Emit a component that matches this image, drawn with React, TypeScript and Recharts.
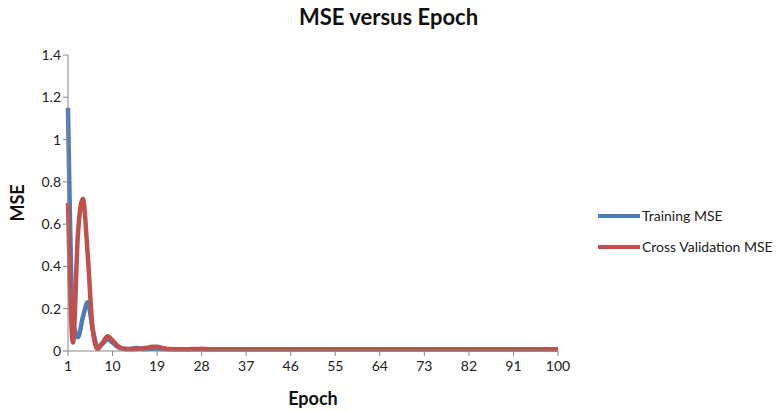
import React from 'react';
import { LineChart, Line, XAxis, YAxis } from 'recharts';

const epochs: number[] = [
  1, 2, 3, 4, 5, 6, 7, 8, 9, 10, 11, 12, 13, 14, 15, 16, 17, 18, 19, 20,
  21, 22, 23, 24, 25, 26, 27, 28, 29, 30, 31, 32, 33, 34, 35, 36, 37, 38, 39, 40,
  41, 42, 43, 44, 45, 46, 47, 48, 49, 50, 51, 52, 53, 54, 55, 56, 57, 58, 59, 60,
  61, 62, 63, 64, 65, 66, 67, 68, 69, 70, 71, 72, 73, 74, 75, 76, 77, 78, 79, 80,
  81, 82, 83, 84, 85, 86, 87, 88, 89, 90, 91, 92, 93, 94, 95, 96, 97, 98, 99, 100,
];

const trainingMSE: number[] = [
  1.15, 0.15, 0.065, 0.16, 0.23, 0.1, 0.02, 0.035, 0.055, 0.04,
  0.02, 0.012, 0.01, 0.012, 0.014, 0.01, 0.009, 0.011, 0.012, 0.01,
  0.009, 0.008, 0.008, 0.008, 0.008, 0.008, 0.008, 0.009, 0.008, 0.008,
  0.008, 0.008, 0.008, 0.008, 0.008, 0.008, 0.008, 0.008, 0.008, 0.008,
  0.008, 0.008, 0.008, 0.008, 0.008, 0.008, 0.008, 0.008, 0.008, 0.008,
  0.008, 0.008, 0.008, 0.008, 0.008, 0.008, 0.008, 0.008, 0.008, 0.008,
  0.008, 0.008, 0.008, 0.008, 0.008, 0.008, 0.008, 0.008, 0.008, 0.008,
  0.008, 0.008, 0.008, 0.008, 0.008, 0.008, 0.008, 0.008, 0.008, 0.008,
  0.008, 0.008, 0.008, 0.008, 0.008, 0.008, 0.008, 0.008, 0.008, 0.008,
  0.008, 0.008, 0.008, 0.008, 0.008, 0.008, 0.008, 0.008, 0.008, 0.008,
];

const crossValidationMSE: number[] = [
  0.7, 0.04, 0.55, 0.72, 0.45, 0.1, 0.01, 0.04, 0.07, 0.05,
  0.025, 0.012, 0.008, 0.008, 0.01, 0.012, 0.015, 0.02, 0.02, 0.015,
  0.01, 0.009, 0.008, 0.008, 0.008, 0.009, 0.01, 0.01, 0.009, 0.008,
  0.008, 0.008, 0.008, 0.008, 0.008, 0.008, 0.008, 0.008, 0.008, 0.008,
  0.008, 0.008, 0.008, 0.008, 0.008, 0.008, 0.008, 0.008, 0.008, 0.008,
  0.008, 0.008, 0.008, 0.008, 0.008, 0.008, 0.008, 0.008, 0.008, 0.008,
  0.008, 0.008, 0.008, 0.008, 0.008, 0.008, 0.008, 0.008, 0.008, 0.008,
  0.008, 0.008, 0.008, 0.008, 0.008, 0.008, 0.008, 0.008, 0.008, 0.008,
  0.008, 0.008, 0.008, 0.008, 0.008, 0.008, 0.008, 0.008, 0.008, 0.008,
  0.008, 0.008, 0.008, 0.008, 0.008, 0.008, 0.008, 0.008, 0.008, 0.008,
];

const xTicks: number[] = [1, 10, 19, 28, 37, 46, 55, 64, 73, 82, 91, 100];
const yTicks: number[] = [0, 0.2, 0.4, 0.6, 0.8, 1, 1.2, 1.4];

const seriesNames = ['Training MSE', 'Cross Validation MSE'];
const seriesColors = ['#4A7EBB', '#C0504D'];

const data = epochs.map((e, i) => ({
  epoch: e,
  training: trainingMSE[i],
  validation: crossValidationMSE[i],
}));

const FONT = 'Lato, "Open Sans", sans-serif';

export default function App() {
  return (
    <div style={{ position: 'absolute', left: 0, top: 0, width: 777, height: 410, background: '#fff' }}>
      <div
        style={{
          position: 'absolute',
          left: 0,
          top: 3,
          width: 777,
          textAlign: 'center',
          fontFamily: FONT,
          fontWeight: 'bold',
          fontSize: 22,
          color: '#111',
          lineHeight: '28px',
        }}
      >
        MSE versus Epoch
      </div>
      <div
        style={{
          position: 'absolute',
          left: 598,
          top: 200,
          fontFamily: FONT,
          fontSize: 14,
          color: '#222',
        }}
      >
        {seriesNames.map((n, i) => (
          <div key={n} style={{ display: 'flex', alignItems: 'center', height: 31 }}>
            <div style={{ width: 42, height: 4, background: seriesColors[i], marginRight: 2 }} />
            <span>{n}</span>
          </div>
        ))}
      </div>
      <LineChart
        width={777}
        height={410}
        data={data}
        margin={{ top: 55, right: 219, bottom: 29, left: 0 }}
      >
        <XAxis
          dataKey="epoch"
          type="number"
          domain={[1, 100]}
          ticks={xTicks}
          interval={0}
          stroke="#868686"
          tickLine={{ stroke: '#868686' }}
          tickSize={5}
          height={30}
          tick={{ fill: '#222', fontSize: 14, fontFamily: FONT, dy: 3 }}
          label={{
            value: 'Epoch',
            position: 'bottom',
            offset: 11,
            style: { fontFamily: FONT, fontWeight: 'bold', fontSize: 18, fill: '#111' },
          }}
        />
        <YAxis
          type="number"
          domain={[0, 1.4]}
          ticks={yTicks}
          interval={0}
          width={68}
          stroke="#868686"
          tickLine={{ stroke: '#868686' }}
          tickSize={5}
          tick={{ fill: '#222', fontSize: 14, fontFamily: FONT }}
          label={{
            value: 'MSE',
            angle: -90,
            position: 'insideLeft',
            offset: 18,
            style: { fontFamily: FONT, fontWeight: 'bold', fontSize: 18, fill: '#111', textAnchor: 'middle' },
          }}
        />
        <Line
          type="monotone"
          dataKey="training"
          name={seriesNames[0]}
          stroke={seriesColors[0]}
          strokeWidth={4.5}
          dot={false}
          isAnimationActive={false}
        />
        <Line
          type="monotone"
          dataKey="validation"
          name={seriesNames[1]}
          stroke={seriesColors[1]}
          strokeWidth={4.5}
          dot={false}
          isAnimationActive={false}
        />
      </LineChart>
    </div>
  );
}
